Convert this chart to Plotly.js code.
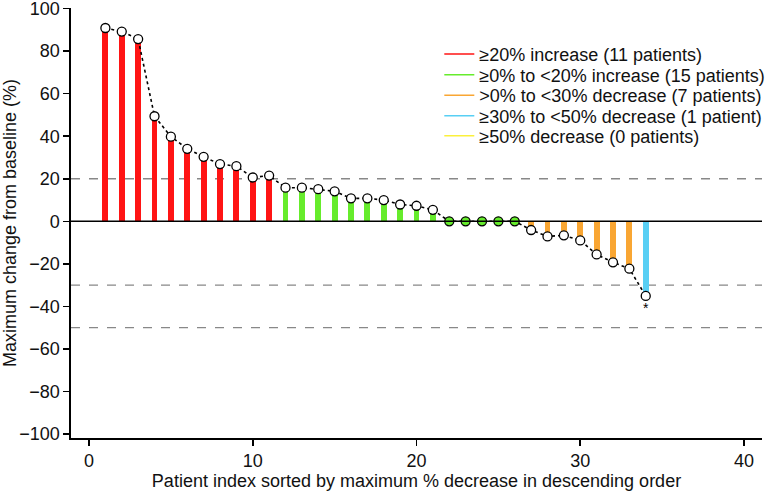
<!DOCTYPE html>
<html>
<head>
<meta charset="utf-8">
<script src="https://cdn.plot.ly/plotly-3.0.1.min.js"></script>
<style>html,body{margin:0;padding:0;background:#fff;}#chart{width:765px;height:494px;}</style>
</head>
<body>
<div id="chart"></div>
<script>
// Patient index (sorted) and maximum % change from baseline
const patients = [1,2,3,4,5,6,7,8,9,10,11,12,13,14,15,16,17,18,19,20,21,22,23,24,25,26,27,28,29,30,31,32,33,34];
const maxChange = [90.9,89.2,85.7,49.4,39.8,34.1,30.3,26.9,25.9,20.6,21.5,15.8,15.8,15.1,14.1,10.8,10.8,10.0,7.9,7.3,5.4,0,0,0,0,0,-4.1,-7.1,-6.6,-9.0,-15.6,-19.3,-22.3,-35.1];
const notes = ['','','','','','','','','','','','','','','','','','','','','','','','','','','','','','','','','','*'];
const groupLabels = ['≥20% increase (11 patients)','≥0% to <20% increase (15 patients)','>0% to <30% decrease (7 patients)','≥30% to <50% decrease (1 patient)','≥50% decrease (0 patients)'];
const groupColors = ['#ff1414','#66ec2c','#f9a633','#58cff4','#fbf03c'];
const refLines = [20,-30,-50];
const xTicks = [0,10,20,30,40];
const yTicks = [-100,-80,-60,-40,-20,0,20,40,60,80,100];

function groupOf(v){
  if (v >= 20) return 0;
  if (v >= 0) return 1;
  if (v > -30) return 2;
  if (v > -50) return 3;
  return 4;
}
const barColors = maxChange.map(v => groupColors[groupOf(v)]);
const markerFill = maxChange.map(v => v === 0 ? groupColors[1] : '#ffffff');

const FAM = 'Liberation Sans, Arial, Helvetica, sans-serif';
const traces = [];
traces.push({
  type:'bar', x:patients, y:maxChange, width:0.36,
  marker:{color:barColors, line:{width:0}}, showlegend:false, hoverinfo:'skip'
});
traces.push({
  type:'scatter', mode:'lines+markers+text', x:patients, y:maxChange,
  text:notes, textposition:'bottom center', textfont:{family:FAM, size:14, color:'#000'},
  line:{color:'#000', width:1.6, dash:'dot'},
  marker:{size:9, color:markerFill, line:{color:'#000', width:1.3}},
  showlegend:false, cliponaxis:false
});
const legendIds = ['legend','legend2','legend3','legend4','legend5'];
groupLabels.forEach((lab,i) => {
  traces.push({type:'scatter', mode:'lines', x:[null], y:[null], name:lab, legend:legendIds[i],
    line:{color:groupColors[i], width:1.5}, showlegend:true});
});

const shapes = [];
refLines.forEach(v => shapes.push({type:'line', xref:'paper', x0:0, x1:1, yref:'y', y0:v, y1:v,
  line:{color:'#888', width:1.3, dash:'dash'}, layer:'below'}));
shapes.push({type:'line', xref:'paper', x0:0, x1:1, yref:'y', y0:0, y1:0, line:{color:'#000', width:1.6}, layer:'above'});

const font = {family:FAM, size:18, color:'#111'};
const layout = {
  width:765, height:494,
  margin:{l:71, r:3, t:8, b:56, autoexpand:false},
  paper_bgcolor:'#fff', plot_bgcolor:'#fff',
  font:font,
  showlegend:true,
  xaxis:{range:[-1.1,41.1], tickvals:xTicks, ticks:'outside', ticklen:6, tickwidth:1.5, tickcolor:'#000',
    showline:true, linecolor:'#000', linewidth:1.6, showgrid:false, zeroline:false, automargin:false,
    ticklabeloverflow:'allow',
    title:{text:'Patient index sorted by maximum % decrease in descending order', font:{size:18}, standoff:4},
    tickfont:{size:18}},
  yaxis:{range:[-101.9,100.3], tickvals:yTicks, ticktext:yTicks.map(v => v<0 ? '\u2212'+Math.abs(v) : String(v)),
    ticks:'outside', ticklen:6, tickwidth:1.5, tickcolor:'#000', automargin:false,
    ticklabeloverflow:'allow',
    showline:true, linecolor:'#000', linewidth:1.6, showgrid:false, zeroline:false,
    title:{text:'Maximum change from baseline (%)', font:{size:18}, standoff:4},
    tickfont:{size:18}},
  shapes:shapes,
  bargap:0
};
const rowY = [54.3, 75, 95.5, 116, 136];
legendIds.forEach((id,i) => {
  layout[id] = {x:0.533, y:1 - (rowY[i]-8)/430, xanchor:'left', yanchor:'middle',
    bgcolor:'rgba(0,0,0,0)', font:{family:FAM, size:18, color:'#111'}, itemwidth:30};
});
Plotly.newPlot('chart', traces, layout, {displayModeBar:false, staticPlot:true});
</script>
</body>
</html>
